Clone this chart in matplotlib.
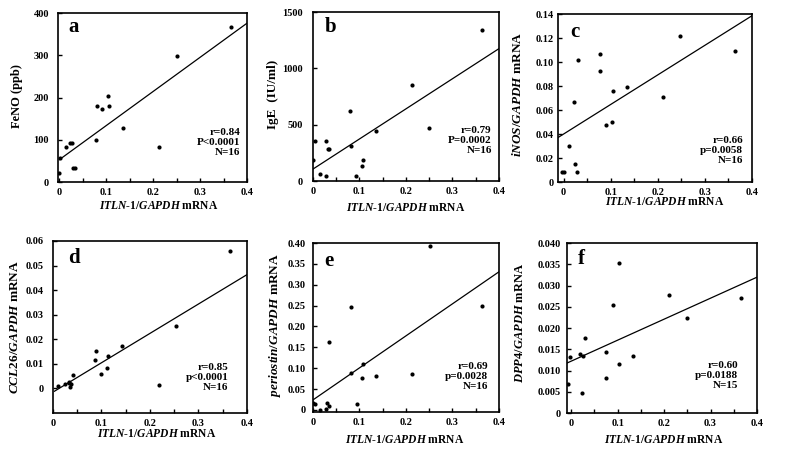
import numpy as np
import matplotlib
matplotlib.use("Agg")
import matplotlib.pyplot as plt
from matplotlib.ticker import MultipleLocator

plt.rcParams["font.family"] = ["Liberation Serif", "DejaVu Serif"]
plt.rcParams["font.weight"] = "bold"
plt.rcParams["mathtext.fontset"] = "custom"
plt.rcParams["mathtext.it"] = "Liberation Serif:italic:bold"
plt.rcParams["mathtext.rm"] = "Liberation Serif:bold"
plt.rcParams["mathtext.bf"] = "Liberation Serif:bold"

# ITLN-1/GAPDH mRNA (x) vs each marker (y)
a_x = [0.0, 0.002, 0.0135, 0.023, 0.027, 0.030, 0.033, 0.078, 0.080, 0.091, 0.104, 0.105, 0.135, 0.212, 0.250, 0.365]
a_y = [21, 57, 83, 93, 92, 33, 32, 99, 181, 173, 203, 181, 129, 83, 299, 368]

b_x = [0.001, 0.004, 0.016, 0.027, 0.029, 0.032, 0.035, 0.080, 0.082, 0.093, 0.106, 0.108, 0.136, 0.212, 0.249, 0.363]
b_y = [186, 354, 65, 44, 354, 283, 283, 623, 313, 47, 130, 186, 443, 856, 472, 1343]

c_x = [-0.003, 0.0, 0.011, 0.022, 0.024, 0.028, 0.030, 0.077, 0.078, 0.089, 0.102, 0.104, 0.134, 0.211, 0.247, 0.363]
c_y = [0.0084, 0.0084, 0.030, 0.0666, 0.0151, 0.0081, 0.1018, 0.0929, 0.1065, 0.0471, 0.0502, 0.0761, 0.0795, 0.0708, 0.1221, 0.1093]

d_x = [0.011, 0.025, 0.032, 0.034, 0.036, 0.038, 0.042, 0.087, 0.088, 0.100, 0.111, 0.114, 0.143, 0.218, 0.253, 0.366]
d_y = [0.0008, 0.0019, 0.0027, 0.0024, 0.0007, 0.0020, 0.0053, 0.0114, 0.0153, 0.0058, 0.0084, 0.0133, 0.0174, 0.0014, 0.0254, 0.0559]

e_x = [0.001, 0.004, 0.016, 0.027, 0.031, 0.034, 0.035, 0.081, 0.082, 0.094, 0.105, 0.108, 0.136, 0.214, 0.251, 0.364]
e_y = [0.017, 0.014, 0.0, 0.002, 0.017, 0.009, 0.163, 0.088, 0.247, 0.014, 0.076, 0.109, 0.081, 0.085, 0.394, 0.248]

f_x = [-0.006, -0.002, 0.020, 0.024, 0.026, 0.029, 0.076, 0.076, 0.089, 0.102, 0.104, 0.133, 0.211, 0.249, 0.365]
f_y = [0.0069, 0.0131, 0.0139, 0.0046, 0.0133, 0.0177, 0.0143, 0.0082, 0.0254, 0.0352, 0.0115, 0.0133, 0.0278, 0.0224, 0.0270]

# regression lines: (intercept, slope, x start)
fits = {
    "a": (53, 807.5, 0.0),
    "b": (106, 2672.5, 0.0),
    "c": (0.040, 0.2464, -0.012),
    "d": (-0.0015, 0.1195, 0.003),
    "e": (0.024, 0.7675, 0.0),
    "f": (0.0122, 0.0494, -0.009),
}

stats = {
    "a": "r=0.84\nP<0.0001\nN=16",
    "b": "r=0.79\nP=0.0002\nN=16",
    "c": "r=0.66\np=0.0058\nN=16",
    "d": "r=0.85\np<0.0001\nN=16",
    "e": "r=0.69\np=0.0028\nN=16",
    "f": "r=0.60\np=0.0188\nN=15",
}

y_labels = {
    "a": "FeNO (ppb)",
    "b": "IgE  (IU/ml)",
    "c": r"$\mathit{iNOS/GAPDH}$ mRNA",
    "d": r"$\mathit{CCL26/GAPDH}$ mRNA",
    "e": r"$\mathit{periostin/GAPDH}$ mRNA",
    "f": r"$\mathit{DPP4/GAPDH}$ mRNA",
}
y_label_size = {"a": 9.0, "b": 9.5, "c": 9.5, "d": 9.5, "e": 9.5, "f": 9.0}
x_label = r"$\mathit{ITLN}$-$\mathit{1/GAPDH}$ mRNA"

x_ticks = [0, 0.1, 0.2, 0.3, 0.4]
x_ticklabels = ["0", "0.1", "0.2", "0.3", "0.4"]

y_ticks = {
    "a": [0, 100, 200, 300, 400],
    "b": [0, 500, 1000, 1500],
    "c": [0, 0.02, 0.04, 0.06, 0.08, 0.10, 0.12, 0.14],
    "d": [0, 0.01, 0.02, 0.03, 0.04, 0.05, 0.06],
    "e": [0, 0.05, 0.10, 0.15, 0.20, 0.25, 0.30, 0.35, 0.40],
    "f": [0, 0.005, 0.010, 0.015, 0.020, 0.025, 0.030, 0.035, 0.040],
}
y_ticklabels = {
    "a": ["0", "100", "200", "300", "400"],
    "b": ["0", "500", "1000", "1500"],
    "c": ["0", "0.02", "0.04", "0.06", "0.08", "0.10", "0.12", "0.14"],
    "d": ["0", "0.01", "0.02", "0.03", "0.04", "0.05", "0.06"],
    "e": ["0", "0.05", "0.10", "0.15", "0.20", "0.25", "0.30", "0.35", "0.40"],
    "f": ["0", "0.005", "0.010", "0.015", "0.020", "0.025", "0.030", "0.035", "0.040"],
}

# layout (figure fractions) and per-panel placement details
panels = {
    # rect, xlim, ylim, ypad, letter pos, stats pos, ylabel pos, xlabel pos
    "a": ([0.0739, 0.5991, 0.2408, 0.3722], (-0.003, 0.4), (0, 400), 6.5,
          (0.053, 0.886), (0.963, 0.16), (-0.217, 0.51), (0.534, -0.142)),
    "b": ([0.3987, 0.6013, 0.2369, 0.3722], (0.0, 0.4), (0, 1500), 7.5,
          (0.065, 0.88), (0.961, 0.167), (-0.215, 0.515), (0.499, -0.16)),
    "c": ([0.7108, 0.5991, 0.2471, 0.3700], (-0.012, 0.4), (0, 0.14), 3.0,
          (0.062, 0.865), (0.954, 0.115), (-0.211, 0.52), (0.55, -0.117)),
    "d": ([0.0675, 0.0903, 0.2471, 0.3789], (0.0, 0.4), (-0.01, 0.06), 6.5,
          (0.076, 0.874), (0.904, 0.134), (-0.196, 0.5), (0.534, -0.122)),
    "e": ([0.3987, 0.0925, 0.2369, 0.3722], (0.0, 0.4), (-0.005, 0.40), 5.0,
          (0.061, 0.864), (0.942, 0.136), (-0.204, 0.515), (0.495, -0.166)),
    "f": ([0.7223, 0.0903, 0.2420, 0.3744], (-0.009, 0.4), (0, 0.040), 4.5,
          (0.058, 0.875), (0.90, 0.145), (-0.247, 0.53), (0.51, -0.159)),
}

data = {
    "a": (a_x, a_y), "b": (b_x, b_y), "c": (c_x, c_y),
    "d": (d_x, d_y), "e": (e_x, e_y), "f": (f_x, f_y),
}

fig = plt.figure(figsize=(7.85, 4.54), dpi=100)

for key, (rect, xlim, ylim, ypad, let_pos, st_pos, yl_pos, xl_pos) in panels.items():
    ax = fig.add_axes(rect)
    xs, ys = data[key]
    ax.scatter(xs, ys, s=9, color="black", zorder=3, linewidths=0)

    b0, b1, xstart = fits[key]
    lx = np.array([xstart, 0.4])
    ax.plot(lx, b0 + b1 * lx, color="black", lw=0.9)

    ax.set_xlim(*xlim)
    ax.set_ylim(*ylim)
    ax.set_xticks(x_ticks)
    ax.set_xticklabels(x_ticklabels)
    ax.xaxis.set_minor_locator(MultipleLocator(0.05))
    ax.set_yticks(y_ticks[key])
    ax.set_yticklabels(y_ticklabels[key])
    ax.tick_params(axis="both", which="both", direction="in", labelsize=7.5, width=1.0)
    ax.tick_params(axis="both", which="major", length=3)
    ax.tick_params(axis="x", which="minor", length=3)
    ax.tick_params(axis="x", pad=4)
    ax.tick_params(axis="y", pad=ypad)
    for lab in ax.get_xticklabels() + ax.get_yticklabels():
        lab.set_fontweight("bold")
    for sp in ax.spines.values():
        sp.set_linewidth(1.2)

    ax.set_ylabel(y_labels[key], fontsize=y_label_size[key], fontweight="bold", va="center")
    ax.yaxis.set_label_coords(*yl_pos)
    ax.set_xlabel(x_label, fontsize=8.3, fontweight="bold", va="center")
    ax.xaxis.set_label_coords(*xl_pos)

    ax.text(let_pos[0], let_pos[1], key, transform=ax.transAxes, fontsize=15,
            fontweight="bold", ha="left", va="baseline")
    ax.text(st_pos[0], st_pos[1], stats[key], transform=ax.transAxes, fontsize=8,
            fontweight="bold", ha="right", va="baseline", multialignment="right",
            linespacing=1.15)

fig.savefig("out.png", dpi=100)
